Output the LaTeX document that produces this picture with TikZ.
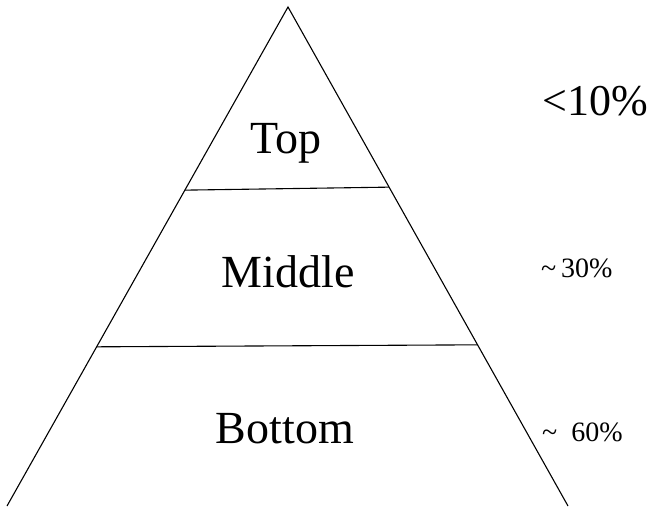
\documentclass[tikz,border=0pt]{standalone}
\usepackage{fontspec}
\setmainfont{Liberation Serif}
\usetikzlibrary{calc}
\tikzset{
  edge/.style={line width=1.1pt, line join=miter},
  big/.style={font=\fontsize{46}{50}\selectfont, anchor=base, inner sep=0pt},
  pct/.style={font=\fontsize{28}{32}\selectfont, anchor=base west, inner sep=0pt},
  pctbig/.style={font=\fontsize{44}{48}\selectfont, anchor=base west, inner sep=0pt}
}
\begin{document}
\begin{tikzpicture}[x=1pt,y=-1pt]
\useasboundingbox (0,0) rectangle (647,506);
\coordinate (apex) at (288,7);
\coordinate (bl) at (7,506);
\coordinate (br) at (568,506);
\draw[edge] (bl) -- (apex) -- (br);
\coordinate (t1) at ($(apex)!0.367!(bl)$);
\coordinate (t2) at ($(apex)!0.361!(br)$);
\coordinate (m1) at ($(apex)!0.681!(bl)$);
\coordinate (m2) at ($(apex)!0.677!(br)$);
\draw[edge] (t1) -- (t2);
\draw[edge] (m1) -- (m2);
\node[big] (top) at (286,153) {Top};
\node[big] (mid) at (288,287) {Middle};
\node[big] (bot) at (285,443) {Bottom};
\node[pctbig] (p10) at (542,115) {<10\%};
\node[pct] (p30) at (541,277) {\textasciitilde\,30\%};
\node[pct] (p60) at (542,441) {\textasciitilde\ \ 60\%};
\end{tikzpicture}
\end{document}
